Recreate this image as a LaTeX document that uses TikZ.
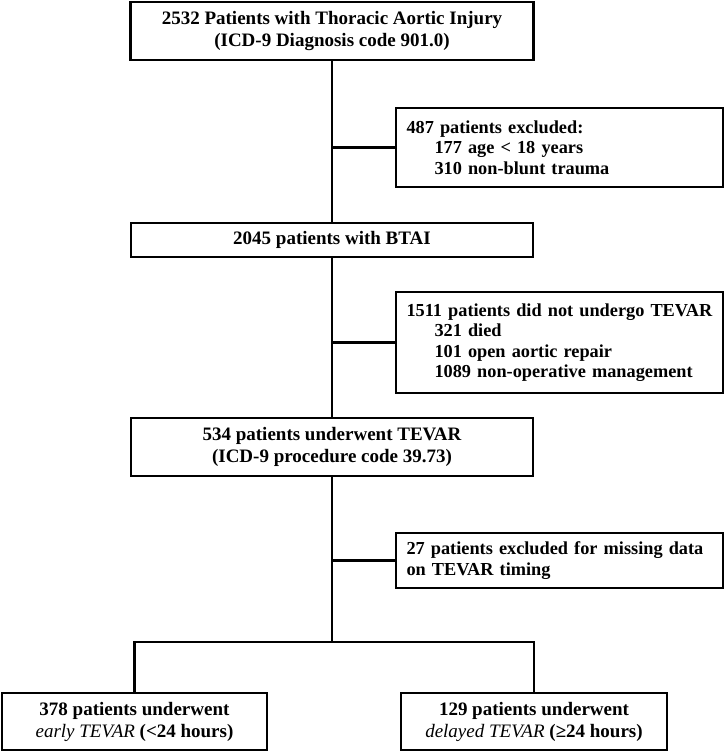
\documentclass[tikz,border=0pt]{standalone}
\usepackage{fontspec}
\setmainfont{Liberation Serif}
\usetikzlibrary{positioning}

\begin{document}
\begin{tikzpicture}[x=1pt, y=-1pt,
    stage/.style={draw, line width=2.4pt, align=center, inner sep=0pt, font=\fontsize{19}{22}\selectfont\bfseries},
    excluded/.style={draw, line width=2.4pt, align=left, text width=314pt, inner xsep=6.5pt, inner ysep=0pt, font=\fontsize{18.3}{20.5}\selectfont\bfseries},
    link/.style={line width=2.2pt}
  ]
    \fill[white] (0,0) rectangle (726,752);
    \useasboundingbox (0,0) rectangle (726,752);

    \node[stage, minimum width=403pt, minimum height=58pt] (injury) at (332,31) {2532 Patients with Thoracic Aortic Injury\\(ICD-9 Diagnosis code 901.0)};
    \node[excluded, minimum height=79pt] (excl1) at (559.5,147.5) {\hspace*{4pt}487 patients excluded:\\\hspace*{32pt}177 age < 18 years\\\hspace*{32pt}310 non-blunt trauma};

    \node[stage, minimum width=402pt, minimum height=34pt] (btai) at (332,240) {2045 patients with BTAI};
    \node[excluded, minimum height=101pt] (excl2) at (559.5,342.5) {\hspace*{4pt}1511 patients did not undergo TEVAR\\\hspace*{32pt}321 died\\\hspace*{32pt}101 open aortic repair\\\hspace*{32pt}1089 non-operative management};

    \node[stage, minimum width=402pt, minimum height=58pt] (tevar) at (332,447) {534 patients underwent TEVAR\\(ICD-9 procedure code 39.73)};
    \node[excluded, minimum height=55pt] (excl3) at (559.5,560.5) {\hspace*{4pt}27 patients excluded for missing data\\\hspace*{4pt}on TEVAR timing};

    \node[stage, minimum width=265pt, minimum height=57pt] (early) at (134.5,721.5) {378 patients underwent\\{\mdseries\itshape early TEVAR} (<24 hours)};
    \node[stage, minimum width=266pt, minimum height=57pt] (delayed) at (534,721.5) {129 patients underwent\\{\mdseries\itshape delayed TEVAR} (≥24 hours)};

    \coordinate (split) at (332,642);

    \draw[link] (injury.south) -- (btai.north);
    \draw[link] (btai.south) -- (tevar.north);
    \draw[link] (tevar.south) -- (split);
    \draw[link] (injury.south |- excl1.west) -- (excl1.west);
    \draw[link] (btai.south |- excl2.west) -- (excl2.west);
    \draw[link] (tevar.south |- excl3.west) -- (excl3.west);
    \draw[link] (early.north) -- (early.north |- split) -- (delayed.north |- split) -- (delayed.north);
  \end{tikzpicture}
\end{document}
